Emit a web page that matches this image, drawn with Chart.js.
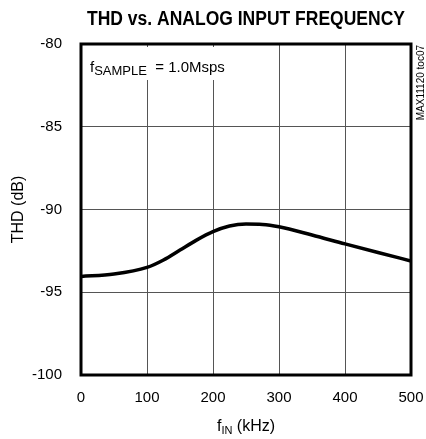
<!DOCTYPE html>
<html>
<head>
<meta charset="utf-8">
<script src="https://cdn.jsdelivr.net/npm/chart.js@4"></script>
<style>
  html, body { margin: 0; padding: 0; background: #fff; }
  #c { display: block; }
</style>
</head>
<body>
<canvas id="c" width="426" height="439"></canvas>
<script>
// ---- data ----
const freqKHz = [0, 50, 100, 125, 150, 175, 200, 225, 250, 275, 300, 350, 400, 450, 500];
const thdDb   = [-94.05, -93.9, -93.5, -93.05, -92.45, -91.85, -91.34, -91.0, -90.88, -90.9, -91.04, -91.54, -92.08, -92.6, -93.11];
const xTicks = [0, 100, 200, 300, 400, 500];
const yTicks = [-100, -95, -90, -85, -80];
const titleText = 'THD vs. ANALOG INPUT FREQUENCY';
const yTitle = 'THD (dB)';
const xTitleParts = [['f', 16, 0], ['IN', 11, 3], [' (kHz)', 16, 0]];
const noteParts = [['f', 15, 0], ['SAMPLE', 13, 3], ['  = 1.0Msps', 15, 0]];
const sideNote = 'MAX11120 toc07';

const FONT = '"Liberation Sans", Arial, sans-serif';

function drawParts(ctx, parts, x, y, align) {
  let total = 0;
  parts.forEach(p => { ctx.font = p[1] + 'px ' + FONT; total += ctx.measureText(p[0]).width; });
  let cx = align === 'center' ? x - total / 2 : x;
  ctx.textAlign = 'left';
  ctx.textBaseline = 'alphabetic';
  parts.forEach(p => {
    ctx.font = p[1] + 'px ' + FONT;
    ctx.fillText(p[0], cx, y + p[2]);
    cx += ctx.measureText(p[0]).width;
  });
}

const decor = {
  id: 'decor',
  beforeDatasetsDraw(chart) {
    const ctx = chart.ctx;
    const a = chart.chartArea;
    ctx.save();
    ctx.fillStyle = '#fff';
    ctx.fillRect(a.left + 3, 47, 148, 33);
    ctx.fillStyle = '#000';
    drawParts(ctx, noteParts, a.left + 9, 72, 'left');
    ctx.restore();
  },
  afterDraw(chart) {
    const ctx = chart.ctx;
    const a = chart.chartArea;
    ctx.save();
    ctx.strokeStyle = '#000';
    ctx.lineWidth = 3;
    ctx.strokeRect(a.left, a.top, a.right - a.left, a.bottom - a.top);
    ctx.fillStyle = '#000';
    ctx.font = 'bold 20px ' + FONT;
    const w = ctx.measureText(titleText).width;
    const target = 318;
    const cx = (a.left + a.right) / 2;
    ctx.save();
    ctx.translate(cx, 25);
    ctx.scale(target / w, 1);
    ctx.textAlign = 'center';
    ctx.textBaseline = 'alphabetic';
    ctx.fillText(titleText, 0, 0);
    ctx.restore();
    drawParts(ctx, xTitleParts, cx, 431, 'center');
    ctx.save();
    ctx.translate(22.5, (a.top + a.bottom) / 2);
    ctx.rotate(-Math.PI / 2);
    ctx.font = '16px ' + FONT;
    ctx.textAlign = 'center';
    ctx.textBaseline = 'alphabetic';
    ctx.fillText(yTitle, 0, 0);
    ctx.restore();
    ctx.save();
    ctx.translate(424, a.top + 1);
    ctx.rotate(-Math.PI / 2);
    ctx.font = '10px ' + FONT;
    ctx.textAlign = 'right';
    ctx.textBaseline = 'alphabetic';
    ctx.fillText(sideNote, 0, 0);
    ctx.restore();
    ctx.restore();
  }
};

new Chart(document.getElementById('c'), {
  type: 'line',
  data: {
    datasets: [{
      data: freqKHz.map((f, i) => ({ x: f, y: thdDb[i] })),
      borderColor: '#000',
      borderWidth: 3.5,
      pointRadius: 0,
      fill: false,
      cubicInterpolationMode: 'monotone'
    }]
  },
  options: {
    responsive: false,
    animation: false,
    devicePixelRatio: 1,
    layout: { padding: { top: 44, right: 15, left: 0, bottom: 0 } },
    plugins: { legend: { display: false }, tooltip: { enabled: false }, title: { display: false } },
    scales: {
      x: {
        type: 'linear', min: 0, max: 500,
        afterBuildTicks: s => { s.ticks = xTicks.map(v => ({ value: v })); },
        afterFit: s => { s.height = 64; s.paddingLeft = 0; s.paddingRight = 0; },
        ticks: { color: '#000', font: { size: 15, family: FONT }, padding: 14, maxRotation: 0 },
        grid: { color: '#555', lineWidth: 1, drawTicks: false },
        border: { display: false }
      },
      y: {
        min: -100, max: -80,
        afterBuildTicks: s => { s.ticks = yTicks.map(v => ({ value: v })); },
        afterFit: s => { s.width = 81; s.paddingTop = 0; s.paddingBottom = 0; },
        ticks: { color: '#000', font: { size: 15, family: FONT }, padding: 19 },
        grid: { color: '#555', lineWidth: 1, drawTicks: false },
        border: { display: false }
      }
    }
  },
  plugins: [decor]
});
</script>
</body>
</html>
